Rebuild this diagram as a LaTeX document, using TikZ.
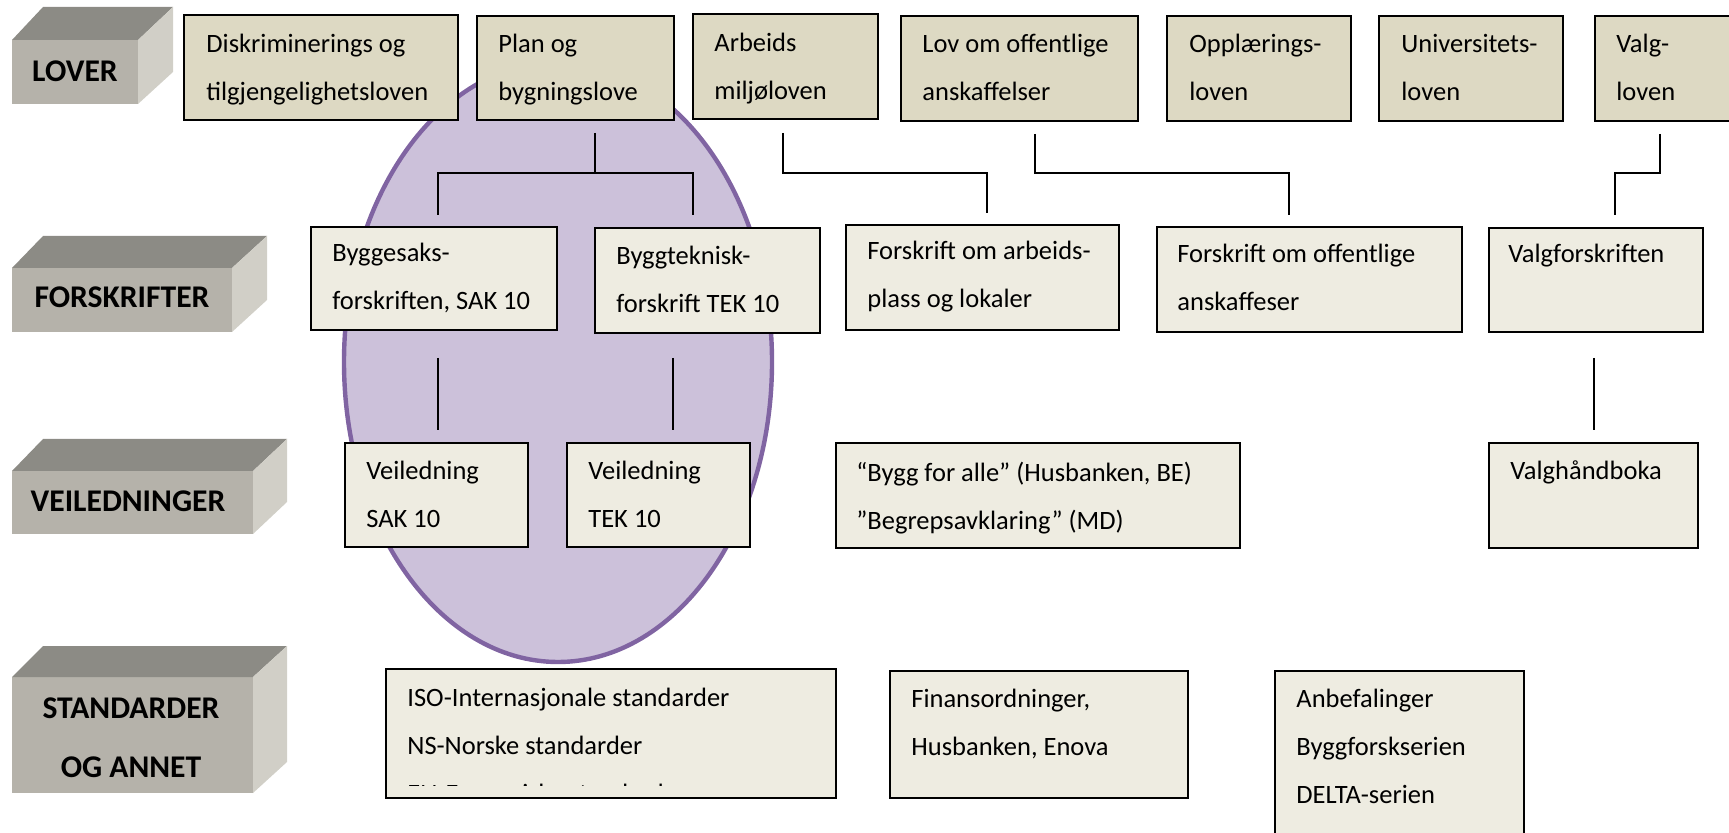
\documentclass[tikz,border=0pt]{standalone}
\usepackage{fontspec}
\setmainfont{Carlito}
\usetikzlibrary{fit,shapes.geometric}
\definecolor{lawfill}{HTML}{DDD9C3}
\definecolor{subfill}{HTML}{EEECE1}
\definecolor{ellfill}{HTML}{CCC1DA}
\definecolor{ellline}{HTML}{8064A2}
\definecolor{blktop}{HTML}{8C8B85}
\definecolor{blkfront}{HTML}{B5B2AA}
\definecolor{blkside}{HTML}{D1CFC7}
\newcommand\twol[2]{\vtop{\hbox{#1}\hbox{#2}}}
\newcommand\threel[3]{\vtop{\hbox{#1}\hbox{#2}\hbox{#3}}}
\begin{document}
\begin{tikzpicture}[x=0.5pt,y=-0.5pt,
 lawbox/.style={draw=black, line width=1.2pt, fill=lawfill, inner sep=0pt},
 subbox/.style={draw=black, line width=1.2pt, fill=subfill, inner sep=0pt},
 txt/.style={inner sep=0pt, anchor=base west, font=\fontsize{13.25}{24}\selectfont},
 blk/.style={fill=blkfront, inner sep=0pt},
 blklbl/.style={inner sep=0pt, anchor=base, font=\fontsize{15.8}{29.5}\selectfont\bfseries},
 conn/.style={draw=black, line width=1.3pt},
]
\useasboundingbox (0,0) rectangle (1729,833);
\clip (0,0) rectangle (1729,833);

% ellipse (plan- og bygningsloven)
\node[ellipse, draw=ellline, line width=2.2pt, fill=ellfill, minimum width=214pt, minimum height=300pt, inner sep=0pt] (pbl) at (558,362) {};

% level blocks
\node[blk, fit={(12,40)(138,104)}] (lover) {};
\fill[blktop] (12,40) -- (43,7) -- (173,7) -- (138,40) -- cycle;
\fill[blkside] (138,40) -- (173,7) -- (173,72) -- (138,104) -- cycle;
\node[blklbl] (lover-l) at (75,82) {LOVER};

\node[blk, fit={(12,268)(232,332)}] (forskr) {};
\fill[blktop] (12,268) -- (43,236) -- (267,236) -- (232,268) -- cycle;
\fill[blkside] (232,268) -- (267,236) -- (267,300) -- (232,332) -- cycle;
\node[blklbl] (forskr-l) at (122,308) {FORSKRIFTER};

\node[blk, fit={(12,471)(253,534)}] (veil) {};
\fill[blktop] (12,471) -- (43,439) -- (287,439) -- (253,471) -- cycle;
\fill[blkside] (253,471) -- (287,439) -- (287,502) -- (253,534) -- cycle;
\node[blklbl] (veil-l) at (128,512) {VEILEDNINGER};

\node[blk, fit={(12,677)(253,793)}] (std) {};
\fill[blktop] (12,677) -- (43,646) -- (287,646) -- (253,677) -- cycle;
\fill[blkside] (253,677) -- (287,646) -- (287,762) -- (253,793) -- cycle;
\node[blklbl] (std-l) at (131,718) {STANDARDER};
\node[blklbl] (std-l2) at (131,777) {OG ANNET};

% LOVER row
\node[lawbox, fit={(184,15)(458,120)}] (disk) {};
\node[txt] (disk-t) at (206,53) {\twol{Diskriminerings og}{tilgjengelighetsloven}};
\node[lawbox, fit={(477,16)(674,120)}] (plan) {};
\node[txt] (plan-t) at (498,53) {\twol{Plan og}{bygningslove}};
\node[lawbox, fit={(693,14)(878,119)}] (arb) {};
\node[txt] (arb-t) at (714,52) {\twol{Arbeids}{miljøloven}};
\node[lawbox, fit={(901,16)(1138,121)}] (lov) {};
\node[txt] (lov-t) at (922,53) {\twol{Lov om offentlige}{anskaffelser}};
\node[lawbox, fit={(1167,16)(1351,121)}] (opp) {};
\node[txt] (opp-t) at (1189,53) {\twol{Opplærings-}{loven}};
\node[lawbox, fit={(1379,16)(1563,121)}] (uni) {};
\node[txt] (uni-t) at (1401,53) {\twol{Universitets-}{loven}};
\node[lawbox, fit={(1595,16)(1745,121)}] (valg) {};
\node[txt] (valg-t) at (1616,53) {\twol{Valg-}{loven}};

% FORSKRIFTER row
\node[subbox, fit={(311,227)(557,330)}] (sak) {};
\node[txt] (sak-t) at (332,262) {\twol{Byggesaks-}{forskriften, SAK 10}};
\node[subbox, fit={(595,228)(820,333)}] (tek) {};
\node[txt] (tek-t) at (616,265) {\twol{Byggteknisk-}{forskrift TEK 10}};
\node[subbox, fit={(846,225)(1119,330)}] (farb) {};
\node[txt] (farb-t) at (867,260) {\twol{Forskrift om arbeids-}{plass og lokaler}};
\node[subbox, fit={(1157,227)(1462,332)}] (foff) {};
\node[txt] (foff-t) at (1177,263) {\twol{Forskrift om offentlige}{anskaffeser}};
\node[subbox, fit={(1489,228)(1703,332)}] (vf) {};
\node[txt] (vf-t) at (1508,263) {Valgforskriften};

% VEILEDNINGER row
\node[subbox, fit={(345,443)(528,547)}] (vsak) {};
\node[txt] (vsak-t) at (366,480) {\twol{Veiledning}{SAK 10}};
\node[subbox, fit={(567,443)(750,547)}] (vtek) {};
\node[txt] (vtek-t) at (588,480) {\twol{Veiledning}{TEK 10}};
\node[subbox, fit={(836,443)(1240,548)}] (bfa) {};
\node[txt] (bfa-t) at (856,482) {\twol{“Bygg for alle” (Husbanken, BE)}{”Begrepsavklaring” (MD)}};
\node[subbox, fit={(1489,443)(1698,548)}] (vh) {};
\node[txt] (vh-t) at (1510,480) {Valghåndboka};

% STANDARDER row
\node[subbox, fit={(386,669)(836,798)}] (iso) {};
\begin{scope}
\clip (386,669) rectangle (836,785);
\node[txt] (iso-t) at (407,706) {\threel{ISO-Internasjonale standarder}{NS-Norske standarder}{EN-Europeiske standarder}};
\end{scope}
\node[subbox, fit={(890,671)(1188,798)}] (fin) {};
\node[txt] (fin-t) at (911,707) {\twol{Finansordninger,}{Husbanken, Enova}};
\node[subbox, fit={(1275,671)(1524,850)}] (anb) {};
\node[txt] (anb-t) at (1296,707) {\threel{Anbefalinger}{Byggforskserien}{DELTA-serien}};

% connectors
\coordinate (plan-o) at (595,133);
\coordinate (sak-i) at (438,215);
\coordinate (tek-i) at (693,215);
\draw[conn] (plan-o) -- ++(0,40);
\draw[conn] (sak-i) -- ++(0,-42) -| (tek-i);

\coordinate (arb-o) at (783,133);
\coordinate (farb-i) at (987,213);
\draw[conn] (arb-o) -- ++(0,40) -| (farb-i);

\coordinate (lov-o) at (1035,134);
\coordinate (foff-i) at (1289,215);
\draw[conn] (lov-o) -- ++(0,39) -| (foff-i);

\coordinate (valg-o) at (1660,134);
\coordinate (vf-i) at (1615,215);
\draw[conn] (valg-o) -- ++(0,39) -| (vf-i);

\coordinate (sak-o) at (438,358);
\coordinate (vsak-i) at (438,430);
\draw[conn] (sak-o) -- (vsak-i);
\coordinate (tek-o) at (673,358);
\coordinate (vtek-i) at (673,430);
\draw[conn] (tek-o) -- (vtek-i);
\coordinate (vf-o) at (1594,358);
\coordinate (vh-i) at (1594,430);
\draw[conn] (vf-o) -- (vh-i);
\end{tikzpicture}
\end{document}
